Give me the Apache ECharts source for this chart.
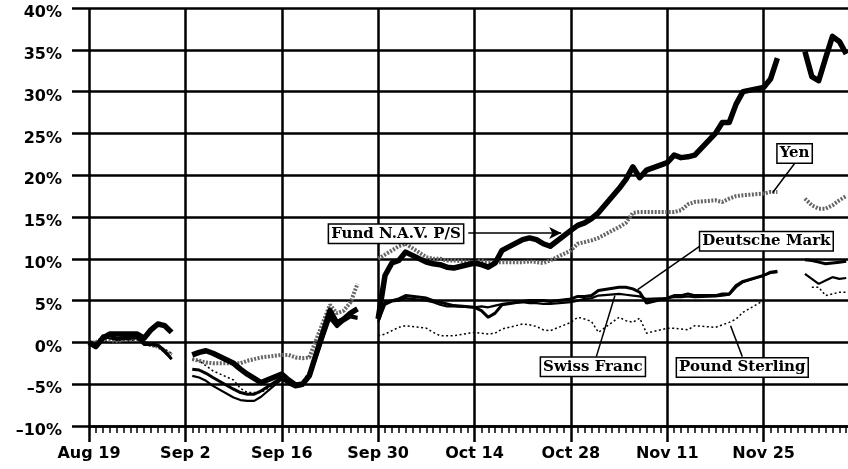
<!DOCTYPE html>
<html>
<head>
<meta charset="utf-8">
<script src="https://cdn.jsdelivr.net/npm/echarts@6/dist/echarts.min.js"></script>
<style>
  html, body { margin: 0; padding: 0; background: #fff; overflow: hidden; }
  /* chart box runs a little past the window so the lines run off the right edge */
  #main { width: 863px; height: 469px; }
</style>
</head>
<body>
<div id="main"></div>
<script>
// tick labels every 14 days, counted from Aug 19
var tickLabels = ["Aug 19", "Sep 2", "Sep 16", "Sep 30", "Oct 14", "Oct 28", "Nov 11", "Nov 25"];

// day offsets from Aug 19 (null rows make the breaks in the lines)
var days = [0, 1, 2, 3, 4, 7, 8, 9, 10, 11, 12, 13,
  15, 16, 17, 18, 21, 22, 23, 24, 25, 28, 29, 30, 31, 32, 35, 36, 37, 38, 39, 40,
  42, 43, 44, 45, 46, 49, 50, 51, 52, 53, 56, 57, 58, 59, 60, 63, 64, 65, 66, 67,
  70, 71, 72, 73, 74, 77, 78, 79, 80, 81, 84, 85, 86, 87, 88, 91, 92, 93, 94, 95,
  98, 99, 100, 102,
  104, 105, 106, 107, 108, 109, 110];

var fundNav = [0, -0.5, 0.5, 1, 1, 1, 0.5, 1.5, 2.2, 2, 1.2, null,
  -1.5, -1.2, -1, -1.3, -2.5, -3.2, -3.8, -4.3, -4.8, -3.8, -4.5, -5.1, -5, -4, 3.8, 2.3, 2.8, 3.5, 4, null,
  2.8, 8, 9.5, 9.8, 10.8, 9.6, 9.4, 9.3, 9, 8.9, 9.5, 9.3, 9, 9.5, 11, 12.3, 12.5, 12.3, 11.8, 11.5,
  13.4, 14, 14.3, 14.8, 15.5, 18.4, 19.5, 21, 19.7, 20.6, 21.5, 22.4, 22.1, 22.2, 22.4, 25, 26.3, 26.3, 28.5, 30,
  30.5, 31.5, 34, null,
  34.8, 31.8, 31.3, 34, 36.6, 36, 34.5];

var yen = [0, 0, 0.5, 0.3, 0.2, 0.5, 0, -0.3, -0.5, -1, -1.5, null,
  -2, -2.2, -2.4, -2.5, -2.5, -2.5, -2.2, -2, -1.8, -1.5, -1.5, -1.8, -1.9, -1.8, 4.5, 3.5, 3.8, 4.8, 7, null,
  10, 10.5, 11, 11.5, 11.8, 10.2, 10, 10, 9.8, 9.8, 9.6, 9.8, 9.6, 9.6, 9.6, 9.6, 9.7, 9.6, 9.5, 9.8,
  11, 11.8, 12, 12.2, 12.5, 13.8, 14.3, 15.5, 15.6, 15.6, 15.6, 15.6, 15.8, 16.5, 16.8, 17, 16.8, 17.2, 17.5, 17.6,
  17.8, 18, 18, null,
  17.2, 16.4, 16, 16, 16.4, 17, 17.5];

var deutscheMark = [0, -0.5, 0.8, 0.8, 0.5, 0.8, 0, -0.2, -0.3, -1, -2, null,
  -3.2, -3.3, -3.7, -4.2, -5.6, -6, -6.2, -6.2, -5.8, -4.2, -4.8, -5.2, -5, -4, 3.2, 2, 2.8, 3.2, 3, null,
  2.8, 4.8, 5, 5.2, 5.6, 5.3, 5, 4.8, 4.6, 4.4, 4.2, 3.8, 3, 3.5, 4.5, 4.9, 5, 5, 5, 4.9,
  5.2, 5.5, 5.5, 5.6, 6.2, 6.6, 6.6, 6.4, 6, 4.7, 5.3, 5.6, 5.6, 5.8, 5.6, 5.6, 5.8, 5.8, 6.8, 7.3,
  8, 8.4, 8.5, null,
  9.9, 9.8, 9.6, 9.4, 9.5, 9.6, 9.7];

var swissFranc = [0, -0.6, 0.6, 0.5, 0.3, 0.5, -0.3, -0.3, -0.4, -1.2, -2, null,
  -4, -4.2, -4.6, -5.2, -6.6, -6.9, -7, -7, -6.5, -4.4, -5, -5.4, -5.2, -4.2, 2.8, 1.8, 2.5, 3, 2.8, null,
  2.4, 4.5, 4.9, 5, 5.3, 5, 4.8, 4.5, 4.3, 4.3, 4.2, 4.3, 4.2, 4.4, 4.6, 4.8, 4.7, 4.7, 4.6, 4.6,
  4.8, 5, 5.2, 5.3, 5.6, 5.8, 5.7, 5.6, 5.5, 5.2, 5.3, 5.4, 5.4, 5.5, 5.4, 5.5, 5.6, 5.7, 6.6, 7.2,
  8, 8.3, 8.4, null,
  8.2, 7.6, 7, 7.4, 7.8, 7.6, 7.7];

var poundSterling = [0, -0.3, 0.2, 0, 0, 0.3, 0, -0.5, -0.5, -0.8, -1.3, null,
  -2, -2.2, -2.8, -3.4, -4.5, -5.5, -6, -6, -6, -4.5, -4.8, -5, -4.7, -3.5, 3, 2.5, 3, 3.3, 3, null,
  0.8, 1, 1.4, 1.8, 2, 1.7, 1.2, 0.8, 0.8, 0.8, 1.2, 1.1, 1, 1.1, 1.6, 2.2, 2.1, 1.9, 1.5, 1.4,
  2.4, 3, 2.8, 2.5, 1.2, 3, 2.6, 2.4, 2.9, 1.1, 1.7, 1.7, 1.6, 1.5, 2, 1.8, 2.1, 2.4, 2.8, 3.6,
  5, null, null, null,
  null, 6.6, 6.6, 5.6, 5.8, 6, 6];

// callout boxes: text, box centre and leader line, all in [day, percent]
var callouts = [
  { text: "Fund N.A.V. P/S", box: [44.6, 13.0], from: [55.1, 13.1], to: [68.6, 13.1], arrow: true },
  { text: "Yen", box: [102.5, 22.6], from: [102.5, 21.4], to: [99.3, 17.9] },
  { text: "Deutsche Mark", box: [98.4, 12.1], from: [88.9, 11.6], to: [79.7, 6.3] },
  { text: "Swiss Franc", box: [73.2, -2.9], from: [73.7, -1.7], to: [76.4, 5.6] },
  { text: "Pound Sterling", box: [94.9, -3.0], from: [94.9, -1.7], to: [93.2, 2.0] }
];

function pairs(vals) {
  return days.map(function (d, i) { return [d, vals[i]]; });
}

var myChart = echarts.init(document.getElementById("main"));

var axisFont = { fontFamily: "DejaVu Sans", fontWeight: "bold", fontSize: 16, color: "#000" };

function lineSeries(name, vals, style, z) {
  return {
    name: name,
    type: "line",
    data: pairs(vals),
    showSymbol: false,
    symbol: "none",
    connectNulls: false,
    z: z,
    lineStyle: style
  };
}

var option = {
  animation: false,
  grid: { left: 89, right: 0, top: 8, bottom: 43 },
  xAxis: {
    type: "value",
    min: 0,
    max: 112,
    interval: 14,
    axisLine: { onZero: false, lineStyle: { color: "#000", width: 2.5 } },
    axisTick: { show: true, length: 16, lineStyle: { color: "#000", width: 2.5 } },
    minorTick: { show: true, splitNumber: 14, length: 7, lineStyle: { color: "#000", width: 1.5 } },
    splitLine: { show: true, lineStyle: { color: "#000", width: 2.5 } },
    axisLabel: Object.assign({
      margin: 20,
      formatter: function (v) { return tickLabels[v / 14] || ""; }
    }, axisFont)
  },
  yAxis: {
    type: "value",
    min: -10,
    max: 40,
    interval: 5,
    axisLine: { show: false },
    axisTick: { show: true, length: 17, lineStyle: { color: "#000", width: 2.5 } },
    splitLine: { show: true, lineStyle: { color: "#000", width: 2.5 } },
    axisLabel: Object.assign({
      margin: 27,
      verticalAlign: "top",
      lineHeight: 10,
      formatter: function (v) { return (v < 0 ? "\u2013" + (-v) : v) + "%"; }
    }, axisFont)
  },
  series: [
    lineSeries("Pound Sterling", poundSterling, { color: "#000", width: 1.5, type: [2, 2.5] }, 2),
    lineSeries("Yen", yen, { color: "#666", width: 4, type: [2, 1.5] }, 3),
    lineSeries("Swiss Franc", swissFranc, { color: "#000", width: 2.2 }, 4),
    lineSeries("Deutsche Mark", deutscheMark, { color: "#000", width: 3 }, 5),
    lineSeries("Fund N.A.V. P/S", fundNav, { color: "#000", width: 5.5, join: "round" }, 6),
    {
      type: "line",
      data: [],
      z: 7,
      markLine: {
        silent: true,
        animation: false,
        label: { show: false },
        lineStyle: { color: "#000", width: 1.5, type: "solid" },
        data: callouts.map(function (c) {
          return [
            { coord: c.from, symbol: "none" },
            { coord: c.to, symbol: c.arrow ? "arrow" : "none", symbolSize: [9, 12] }
          ];
        })
      }
    }
  ]
};

myChart.setOption(option);

// put the callout boxes where the axes say they go
myChart.setOption({
  graphic: callouts.map(function (c) {
    var p = myChart.convertToPixel({ gridIndex: 0 }, c.box);
    return {
      type: "text",
      x: p[0],
      y: p[1],
      z: 100,
      style: {
        text: c.text,
        font: "bold 15px 'DejaVu Serif'",
        fill: "#000",
        align: "center",
        verticalAlign: "middle",
        backgroundColor: "#fff",
        borderColor: "#000",
        borderWidth: 1.5,
        padding: [2, 2, 1, 2]
      }
    };
  })
});
</script>
</body>
</html>
